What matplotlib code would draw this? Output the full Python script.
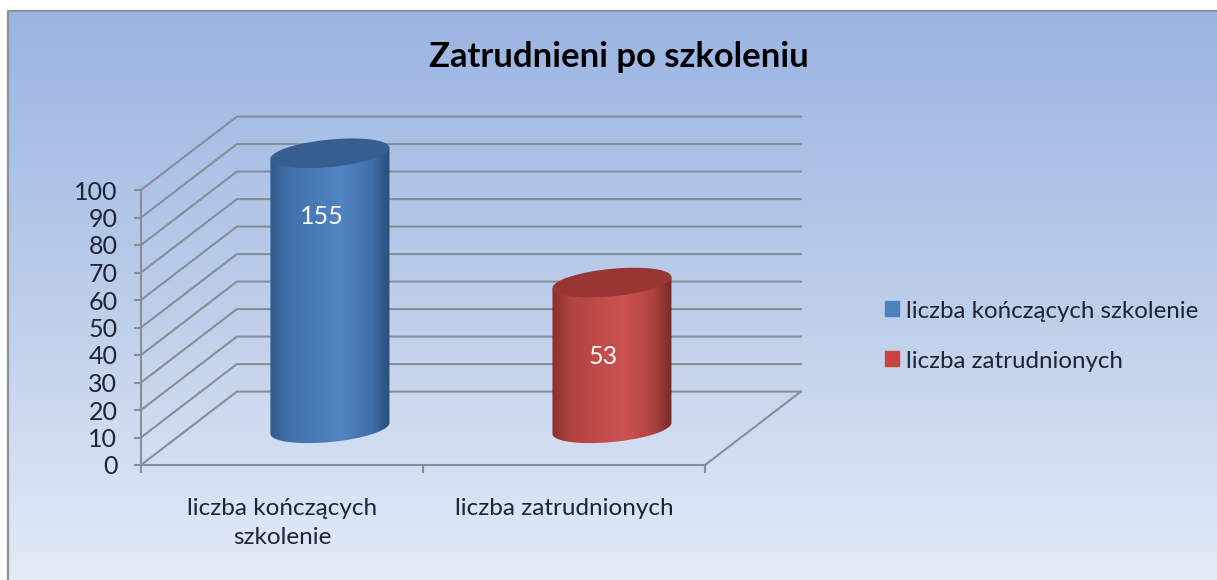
import numpy as np
import matplotlib
matplotlib.use('Agg')
import matplotlib.pyplot as plt
from matplotlib.colors import LinearSegmentedColormap
from matplotlib.lines import Line2D
from matplotlib.patches import Patch, PathPatch
from matplotlib.path import Path

plt.rcParams['font.family'] = ['Lato', 'DejaVu Sans']

# dane
title = 'Zatrudnieni po szkoleniu'
categories = ['liczba kończących\nszkolenie', 'liczba zatrudnionych']
legend_labels = ['liczba kończących szkolenie', 'liczba zatrudnionych']
values = [155, 53]
value_ticks = list(range(0, 101, 10))
axis_max = 100

# kolory
text_color = '#1d2433'
line_color = '#858e99'
bg_colors = ['#9ab5e3', '#bccde9', '#e4ebf7']
body_colors = [[(0, '#2f5a8c'), (0.15, '#3f70aa'), (0.6, '#5285c4'), (0.85, '#3f6fa8'), (1, '#2a4d7c')],
               [(0, '#8a2f2d'), (0.15, '#b04340'), (0.6, '#cd5351'), (0.85, '#ad4240'), (1, '#7a2826')]]
top_colors = ['#365f90', '#983634']
legend_colors = ['#4f81bd', '#c9433f']

# glebokosc "3D" w jednostkach osi
depth_x = 0.34
depth_y = 26.7
half_w = 0.211
ell_b = 5.0
ell_k = 2.0

fig = plt.figure(figsize=(12.17, 5.8), dpi=100, facecolor='white')
ax = fig.add_axes([0, 0, 1, 1], facecolor='none')

# tlo z gradientem
bg = LinearSegmentedColormap.from_list('bg', bg_colors)
ax.imshow(np.linspace(0, 1, 256).reshape(-1, 1), cmap=bg, aspect='auto',
          extent=(8 / 1217, 1, 0, 1 - 11 / 580), transform=ax.transAxes, zorder=0)
fig.add_artist(Line2D([8 / 1217, 8 / 1217, 1], [0, 1 - 11 / 580, 1 - 11 / 580],
                      color='#8b9099', lw=1.6))

# sciany i siatka
n = len(categories)
for v in value_ticks:
    ax.plot([0, depth_x, n + depth_x], [v, v + depth_y, v + depth_y],
            color=line_color, lw=1.5, zorder=1)
ax.plot([n, n + depth_x], [0, depth_y], color=line_color, lw=1.5, zorder=1)

# walce
t = np.linspace(0, 2 * np.pi, 200)
for i, val in enumerate(values):
    h = min(val, axis_max)
    cx = i + 0.5 + depth_x / 2
    base = depth_y / 2
    ex = cx + half_w * np.cos(t)
    ey = ell_b * np.sin(t) + ell_k * np.cos(t)
    low = np.pi <= t
    low_x, low_y = ex[low], ey[low]
    xs = np.concatenate([[cx - half_w], low_x, [cx + half_w]])
    ys = np.concatenate([[base + h - ell_k], base + low_y, [base + h + ell_k]])
    body = PathPatch(Path(np.column_stack([xs, ys])), fc='none', ec='none', zorder=2)
    ax.add_patch(body)
    cm = LinearSegmentedColormap.from_list('b%d' % i, body_colors[i])
    im = ax.imshow(np.linspace(0, 1, 256).reshape(1, -1), cmap=cm, aspect='auto',
                   extent=(cx - half_w, cx + half_w, 0, axis_max + depth_y), zorder=2)
    im.set_clip_path(body)
    ax.fill(ex, base + h + ey, color=top_colors[i], lw=0, zorder=3)
    ax.text(cx - 0.03, val / 2 + base - 0.5, str(val), color='white', fontsize=18,
            ha='center', va='center', zorder=4)

ax.set_xlim(-141 / 282, (1217 - 141) / 282)
ax.set_ylim(-(580 - 465) / 2.75, 465 / 2.75)

# osie
for s in ['top', 'right']:
    ax.spines[s].set_visible(False)
ax.spines['left'].set_position(('data', 0))
ax.spines['left'].set_bounds(0, axis_max)
ax.spines['bottom'].set_position(('data', 0))
ax.spines['bottom'].set_bounds(0, n)
for s in ['left', 'bottom']:
    ax.spines[s].set_color(line_color)
    ax.spines[s].set_linewidth(1.5)
    ax.spines[s].set_zorder(1)
ax.set_yticks(value_ticks)
ax.tick_params(axis='y', length=5, width=1.5, color=line_color, pad=12,
               labelsize=18, labelcolor=text_color)
ax.set_xticks(range(n + 1))
ax.set_xticklabels([])
ax.tick_params(axis='x', which='major', length=6, width=1.5, color=line_color)
ax.set_xticks(np.arange(n) + 0.5, minor=True)
ax.set_xticklabels(categories, minor=True, ha='center', linespacing=1.5)
ax.tick_params(axis='x', which='minor', length=0, pad=23.5, labelsize=17.5,
               labelcolor=text_color)

fig.text(619 / 1217, 1 - 57 / 580, title, ha='center', va='center',
         fontsize=24.9, fontweight='bold', color='black')

handles = [Patch(color=c) for c in legend_colors]
ax.legend(handles, legend_labels, loc='center left', bbox_to_anchor=(885 / 1217, 1 - 336 / 580),
          frameon=False, fontsize=17.4, labelcolor=text_color, handlelength=0.58,
          handleheight=0.58, handletextpad=0.29, labelspacing=1.2, borderpad=0, borderaxespad=0)

fig.savefig('out.png', dpi=100)
